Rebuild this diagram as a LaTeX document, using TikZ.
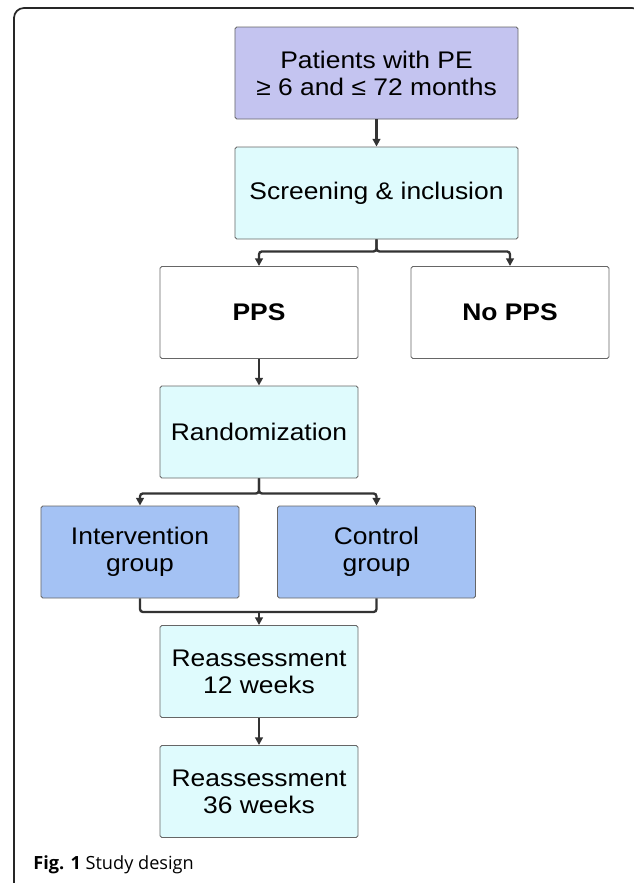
\documentclass[tikz,border=0pt]{standalone}
\usepackage{fontspec}
\setmainfont{Liberation Sans}[FakeStretch=1.1]
\newfontfamily\captionfont{Open Sans}
\usetikzlibrary{
	arrows.meta,
	positioning
}
\definecolor{peviolet}{HTML}{C4C4F0}
\definecolor{stagecyan}{HTML}{DFFBFD}
\definecolor{groupblue}{HTML}{A4C2F4}
\definecolor{boxline}{HTML}{666666}
\definecolor{connline}{HTML}{333333}
\tikzset{every path/.append style={line width=0.5pt}}
\tikzset{every path/.append style={>={Triangle[length=6.5pt,width=6.5pt]}}}
\tikzset{
	box/.style={draw=boxline,line width=0.8pt,rounded corners=1.5pt,minimum width=5.94cm,minimum height=2.76cm,inner sep=0pt,align=center,font=\fontsize{20.5}{23}\selectfont},
	conn/.style={draw=connline,line width=2pt,rounded corners=2.5pt,->}
}
\newcommand{\tikzBox}[4][]{\node (#3) at #2 [box,#1]{#4};}

\begin{document}
\begin{tikzpicture}[x=0.03cm,y=-0.03cm]
	\useasboundingbox (0,0) rectangle (633,883);
	\draw[line width=1.5pt,color=black!85,rounded corners=8.5pt] (14,8) rectangle (642,893);

	\tikzBox[fill=peviolet,minimum width=8.49cm]{(376.5,73)}{pe}{Patients with PE\\≥ 6 and ≤ 72 months}
	\tikzBox[fill=stagecyan,minimum width=8.49cm]{(376.5,193)}{screen}{Screening \& inclusion}
	\tikzBox[fill=white]{(259,312.5)}{pps}{\textbf{PPS}}
	\tikzBox[fill=white]{(510,312.5)}{nopps}{\textbf{No PPS}}
	\tikzBox[fill=stagecyan]{(259,432)}{rand}{Randomization}
	\tikzBox[fill=groupblue]{(140,552)}{interv}{Intervention\\group}
	\tikzBox[fill=groupblue]{(376.5,552)}{ctrl}{Control\\group}
	\tikzBox[fill=stagecyan]{(259,671.5)}{re12}{Reassessment\\12 weeks}
	\tikzBox[fill=stagecyan]{(259,791.5)}{re36}{Reassessment\\36 weeks}
	\coordinate (merge) at (259,612);

	\draw[conn] (pe) -- (screen);
	\draw[conn] (screen.south) -- ++(0,12) -| (pps.north);
	\draw[conn] (screen.south) -- ++(0,12) -| (nopps.north);
	\draw[conn] (pps) -- (rand);
	\draw[conn] (rand.south) -- ++(0,15) -| (interv.north);
	\draw[conn] (rand.south) -- ++(0,15) -| (ctrl.north);
	\draw[conn,-] (interv.south) |- (merge);
	\draw[conn,-] (ctrl.south) |- (merge);
	\draw[conn] (merge) -- (re12.north);
	\draw[conn] (re12) -- (re36);

	\node[anchor=base west,inner sep=0pt,font=\captionfont\fontsize{15.5}{18}\selectfont] (cap) at (33,869) {\textbf{Fig. 1} Study design};
\end{tikzpicture}
\end{document}
